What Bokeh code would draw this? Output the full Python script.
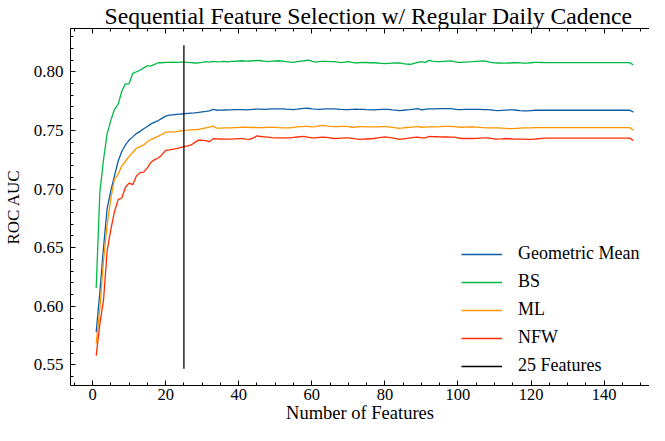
from bokeh.plotting import figure
from bokeh.models import (Range1d, SingleIntervalTicker, LinearAxis, Legend, LegendItem,
                          NumeralTickFormatter, CustomJSTickFormatter)
from bokeh.embed import file_html
from bokeh.resources import INLINE

features = list(range(1, 149))

geometric_mean = [
    0.5780, 0.6120, 0.6500, 0.6836, 0.6987, 0.7112, 0.7237, 0.7320, 0.7376, 0.7418,
    0.7445, 0.7473, 0.7492, 0.7514, 0.7534, 0.7556, 0.7570, 0.7584, 0.7603, 0.7622,
    0.7630, 0.7633, 0.7636, 0.7639, 0.7642, 0.7645, 0.7648, 0.7650, 0.7653, 0.7658,
    0.7662, 0.7667, 0.7680, 0.7672, 0.7673, 0.7674, 0.7675, 0.7676, 0.7677, 0.7677,
    0.7678, 0.7676, 0.7678, 0.7680, 0.7682, 0.7681, 0.7680, 0.7682, 0.7684, 0.7683,
    0.7683, 0.7684, 0.7681, 0.7680, 0.7678, 0.7681, 0.7685, 0.7688, 0.7689, 0.7684,
    0.7681, 0.7680, 0.7682, 0.7683, 0.7683, 0.7683, 0.7681, 0.7679, 0.7678, 0.7678,
    0.7680, 0.7681, 0.7680, 0.7679, 0.7677, 0.7676, 0.7675, 0.7677, 0.7679, 0.7680,
    0.7680, 0.7676, 0.7673, 0.7669, 0.7672, 0.7676, 0.7678, 0.7682, 0.7686, 0.7675,
    0.7680, 0.7683, 0.7683, 0.7684, 0.7685, 0.7686, 0.7686, 0.7686, 0.7682, 0.7678,
    0.7678, 0.7679, 0.7680, 0.7680, 0.7679, 0.7679, 0.7678, 0.7678, 0.7675, 0.7671,
    0.7669, 0.7671, 0.7673, 0.7675, 0.7675, 0.7672, 0.7669, 0.7667, 0.7666, 0.7669,
    0.7672, 0.7672, 0.7672, 0.7672, 0.7672, 0.7672, 0.7672, 0.7672, 0.7672, 0.7672,
    0.7672, 0.7672, 0.7672, 0.7672, 0.7672, 0.7672, 0.7672, 0.7672, 0.7672, 0.7672,
    0.7672, 0.7672, 0.7672, 0.7672, 0.7672, 0.7672, 0.7672, 0.7656,
]

bs = [
    0.6156, 0.6973, 0.7250, 0.7473, 0.7586, 0.7680, 0.7722, 0.7834, 0.7897, 0.7897,
    0.7986, 0.8000, 0.8013, 0.8033, 0.8050, 0.8050, 0.8063, 0.8077, 0.8077, 0.8080,
    0.8080, 0.8083, 0.8080, 0.8083, 0.8083, 0.8080, 0.8078, 0.8075, 0.8077, 0.8081,
    0.8086, 0.8083, 0.8088, 0.8085, 0.8086, 0.8088, 0.8084, 0.8088, 0.8089, 0.8092,
    0.8094, 0.8090, 0.8092, 0.8094, 0.8097, 0.8094, 0.8090, 0.8086, 0.8090, 0.8092,
    0.8094, 0.8090, 0.8086, 0.8083, 0.8080, 0.8086, 0.8090, 0.8094, 0.8099, 0.8090,
    0.8083, 0.8086, 0.8089, 0.8088, 0.8086, 0.8086, 0.8082, 0.8078, 0.8083, 0.8086,
    0.8080, 0.8075, 0.8078, 0.8080, 0.8079, 0.8077, 0.8078, 0.8075, 0.8072, 0.8070,
    0.8072, 0.8074, 0.8075, 0.8076, 0.8070, 0.8066, 0.8064, 0.8072, 0.8080, 0.8086,
    0.8078, 0.8097, 0.8090, 0.8086, 0.8086, 0.8089, 0.8091, 0.8092, 0.8086, 0.8081,
    0.8080, 0.8083, 0.8085, 0.8086, 0.8088, 0.8090, 0.8092, 0.8086, 0.8080, 0.8076,
    0.8075, 0.8074, 0.8073, 0.8075, 0.8077, 0.8078, 0.8076, 0.8074, 0.8073, 0.8077,
    0.8081, 0.8080, 0.8079, 0.8078, 0.8078, 0.8078, 0.8078, 0.8078, 0.8078, 0.8078,
    0.8078, 0.8078, 0.8078, 0.8078, 0.8078, 0.8078, 0.8078, 0.8078, 0.8078, 0.8078,
    0.8078, 0.8078, 0.8078, 0.8078, 0.8078, 0.8078, 0.8078, 0.8058,
]

ml = [
    0.5684, 0.5975, 0.6390, 0.6696, 0.6918, 0.7085, 0.7126, 0.7196, 0.7237, 0.7279,
    0.7312, 0.7348, 0.7362, 0.7376, 0.7403, 0.7423, 0.7437, 0.7451, 0.7467, 0.7484,
    0.7487, 0.7487, 0.7490, 0.7495, 0.7500, 0.7502, 0.7505, 0.7507, 0.7508, 0.7515,
    0.7522, 0.7528, 0.7537, 0.7519, 0.7520, 0.7521, 0.7521, 0.7521, 0.7524, 0.7526,
    0.7528, 0.7527, 0.7526, 0.7525, 0.7524, 0.7524, 0.7525, 0.7526, 0.7527, 0.7526,
    0.7524, 0.7522, 0.7521, 0.7522, 0.7526, 0.7530, 0.7533, 0.7535, 0.7535, 0.7530,
    0.7532, 0.7538, 0.7543, 0.7538, 0.7534, 0.7532, 0.7533, 0.7535, 0.7535, 0.7532,
    0.7527, 0.7529, 0.7532, 0.7532, 0.7531, 0.7530, 0.7530, 0.7531, 0.7532, 0.7532,
    0.7530, 0.7526, 0.7522, 0.7518, 0.7521, 0.7525, 0.7527, 0.7530, 0.7535, 0.7527,
    0.7528, 0.7530, 0.7530, 0.7531, 0.7532, 0.7534, 0.7535, 0.7535, 0.7532, 0.7528,
    0.7527, 0.7528, 0.7529, 0.7530, 0.7528, 0.7526, 0.7523, 0.7521, 0.7521, 0.7521,
    0.7521, 0.7519, 0.7517, 0.7515, 0.7515, 0.7517, 0.7519, 0.7521, 0.7521, 0.7522,
    0.7524, 0.7524, 0.7524, 0.7524, 0.7524, 0.7524, 0.7524, 0.7524, 0.7524, 0.7524,
    0.7524, 0.7524, 0.7524, 0.7524, 0.7524, 0.7524, 0.7524, 0.7524, 0.7524, 0.7524,
    0.7524, 0.7524, 0.7524, 0.7524, 0.7524, 0.7524, 0.7524, 0.7501,
]

nfw = [
    0.5580, 0.5850, 0.6050, 0.6474, 0.6655, 0.6807, 0.6910, 0.6924, 0.7015, 0.7051,
    0.7037, 0.7112, 0.7140, 0.7145, 0.7181, 0.7229, 0.7251, 0.7265, 0.7293, 0.7329,
    0.7334, 0.7340, 0.7345, 0.7354, 0.7362, 0.7368, 0.7376, 0.7398, 0.7417, 0.7415,
    0.7413, 0.7403, 0.7430, 0.7428, 0.7427, 0.7426, 0.7426, 0.7426, 0.7428, 0.7430,
    0.7430, 0.7425, 0.7423, 0.7437, 0.7453, 0.7448, 0.7445, 0.7442, 0.7438, 0.7437,
    0.7437, 0.7437, 0.7437, 0.7437, 0.7440, 0.7444, 0.7447, 0.7448, 0.7442, 0.7437,
    0.7437, 0.7440, 0.7443, 0.7440, 0.7436, 0.7431, 0.7433, 0.7435, 0.7437, 0.7437,
    0.7432, 0.7427, 0.7423, 0.7425, 0.7427, 0.7429, 0.7431, 0.7436, 0.7441, 0.7445,
    0.7441, 0.7437, 0.7430, 0.7423, 0.7428, 0.7432, 0.7437, 0.7440, 0.7443, 0.7437,
    0.7437, 0.7448, 0.7447, 0.7446, 0.7445, 0.7444, 0.7444, 0.7443, 0.7443, 0.7437,
    0.7431, 0.7431, 0.7431, 0.7431, 0.7433, 0.7435, 0.7436, 0.7437, 0.7432, 0.7427,
    0.7426, 0.7428, 0.7431, 0.7429, 0.7427, 0.7426, 0.7426, 0.7425, 0.7424, 0.7423,
    0.7426, 0.7429, 0.7432, 0.7434, 0.7434, 0.7434, 0.7434, 0.7434, 0.7434, 0.7434,
    0.7434, 0.7434, 0.7434, 0.7434, 0.7434, 0.7434, 0.7434, 0.7434, 0.7434, 0.7434,
    0.7434, 0.7434, 0.7434, 0.7434, 0.7434, 0.7434, 0.7434, 0.7414,
]

cutoff_x = [25, 25]
cutoff_y = [0.5467, 0.8227]

series_names = ["Geometric Mean", "BS", "ML", "NFW"]
series_colors = ["#0C5DA5", "#00B945", "#FF9500", "#FF2C00"]

FONT = "Liberation Serif"
X_LO, X_HI = -6.03, 152.4
Y_LO, Y_HI = 0.5325, 0.8369

p = figure(width=649, height=425, output_backend="svg", toolbar_location=None,
           x_range=Range1d(X_LO, X_HI), y_range=Range1d(Y_LO, Y_HI),
           x_axis_location=None, y_axis_location=None,
           min_border_left=63, min_border_right=0, min_border_top=21, min_border_bottom=38)
p.outline_line_color = None
p.background_fill_color = "white"
p.border_fill_color = "white"

p.title.text = "Sequential Feature Selection w/ Regular Daily Cadence"
p.title.align = "left"
p.title.offset = 34
p.title.text_font = FONT
p.title.text_font_size = "23.7px"
p.title.text_font_style = "normal"
p.title.text_color = "black"
p.title.standoff = 0


def style_axis(ax):
    ax.axis_line_color = "black"
    ax.axis_line_width = 1
    ax.major_tick_in = 5
    ax.major_tick_out = 0
    ax.minor_tick_in = 3
    ax.minor_tick_out = 0
    ax.major_tick_line_color = "black"
    ax.minor_tick_line_color = "black"
    ax.major_label_text_font = FONT
    ax.major_label_text_font_size = "17px"
    ax.major_label_text_color = "black"
    ax.axis_label_text_font = FONT
    ax.axis_label_text_font_size = "17px"
    ax.axis_label_text_font_style = "normal"
    ax.axis_label_text_color = "black"


xb = LinearAxis(ticker=SingleIntervalTicker(interval=20, num_minor_ticks=4),
                axis_label="Number of Features")
style_axis(xb)
xb.major_label_text_font_size = "16.5px"
xb.axis_label_text_font_size = "18.5px"
xb.major_label_standoff = 3
xb.axis_label_standoff = 0
p.add_layout(xb, "below")

xt = LinearAxis(ticker=SingleIntervalTicker(interval=20, num_minor_ticks=4),
                formatter=CustomJSTickFormatter(code="return ''"))
style_axis(xt)
xt.major_label_standoff = 0
xt.major_label_text_font_size = "1px"
p.add_layout(xt, "above")

yl = LinearAxis(ticker=SingleIntervalTicker(interval=0.05, num_minor_ticks=5),
                formatter=NumeralTickFormatter(format="0.00"), axis_label="ROC AUC")
style_axis(yl)
yl.major_label_standoff = 7
yl.axis_label_standoff = 8
p.add_layout(yl, "left")

p.xgrid.visible = False
p.ygrid.visible = False

renderers = []
for vals, color in zip([geometric_mean, bs, ml, nfw], series_colors):
    r = p.line(features, vals, line_color=color, line_width=1.3)
    renderers.append(r)
rv = p.line(cutoff_x, cutoff_y, line_color="black", line_width=1.3)

items = [LegendItem(label=n, renderers=[r]) for n, r in zip(series_names, renderers)]
items.append(LegendItem(label="25 Features", renderers=[rv]))
legend = Legend(items=items, location=(391, 9), border_line_color=None,
                background_fill_alpha=0, padding=0, margin=0, spacing=7,
                glyph_width=41, glyph_height=20, label_height=20, label_standoff=16,
                label_text_font=FONT, label_text_font_size="18px", label_text_color="black")
p.add_layout(legend)

open("out.html", "w").write(file_html(p, INLINE))
